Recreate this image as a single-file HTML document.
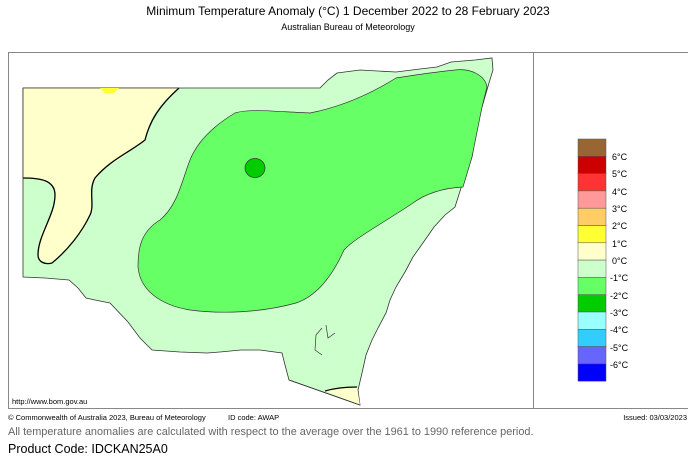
<!DOCTYPE html>
<html><head><meta charset="utf-8"><style>
body{margin:0;background:#fff;width:688px;height:467px;overflow:hidden;font-family:"Liberation Sans",Arial,sans-serif}
</style></head><body>
<svg width="688" height="467" xmlns="http://www.w3.org/2000/svg" font-family="Liberation Sans, Arial, sans-serif">
<text x="348" y="15" font-size="12" text-anchor="middle" fill="#000">Minimum Temperature Anomaly (°C)  1 December 2022 to 28 February 2023</text>
<text x="348" y="30" font-size="9" text-anchor="middle" fill="#000">Australian Bureau of Meteorology</text>
<rect x="8.5" y="52.5" width="690" height="356" fill="none" stroke="#888" stroke-width="1"/>
<line x1="533.5" y1="52" x2="533.5" y2="409" stroke="#888"/>
<path d="M23,88 L320,88 L328,80 L337,73 L360,70 L396,72 L420,69 L437,67 L451,62 L475,60 L492,58 L493,70 L489,83 L482,107 L476,130 L472,157 L461,188 L455,207 L445,215 L434,227 L425,240 L413,257 L405,272 L396,287 L390,300 L386,313 L378,328 L372,340 L366,355 L362,373 L358,390 L360,405 L289,380 L285,365 L282,353 L260,350 L241,350 L220,352 L207,353 L180,352 L152,350 L140,338 L128,322 L110,303 L95,300 L86,298 L78,288 L69,280 L45,278 L23,277 Z" fill="#ccffcc" stroke="#333" stroke-width="0.8"/>
<path d="M179,88 L165,100 L152,117 L145,140 L125,155 L103,170 L90,187 L93,210 L83,230 L69,247 L52,263 L38,260 L41,233 L55,207 L55,187 L41,180 L23,178 L23,88 Z" fill="#ffffcc"/>
<path d="M179,88 C160,105 150,120 145,140 C130,152 110,160 95,178 C88,190 95,205 90,215 C82,232 68,250 52,263 C45,265 38,262 38,255 C38,235 55,215 55,195 C55,180 40,178 23,178" fill="none" stroke="#000" stroke-width="1.3"/>
<path d="M23,88 L179,88 M23,88 L23,178" stroke="#333" stroke-width="0.8"/>
<path d="M100,88 L119,88 L114,93 L105,93 Z" fill="#ffff33"/>
<path d="M396,78 C380,88 350,105 310,113 C280,112 250,108 235,113 C215,125 198,140 190,160 C182,180 178,205 160,220 C140,232 138,250 138,267 C140,290 160,305 190,310 C220,314 260,313 296,303 C320,295 335,270 344,250 C355,238 380,225 413,203 C428,192 445,188 463,187 L472,157 L482,107 L487,87 C485,75 470,68 455,70 C435,72 415,75 396,78 Z" fill="#66ff66" stroke="#333" stroke-width="0.7"/>
<ellipse cx="255" cy="168" rx="10" ry="9.5" fill="#00cc00" stroke="#333" stroke-width="0.7"/>
<path d="M325,391 L345,388 L357,387 L360,405 Z" fill="#ffffcc"/>
<path d="M325,391 C335,388 348,387 357,387" fill="none" stroke="#000" stroke-width="1.2"/>
<path d="M289,380 L360,405" stroke="#333" stroke-width="0.8"/>
<path d="M322,328 L316,335 L315,350 L322,355 M326,325 L328,338 L335,333" fill="none" stroke="#333" stroke-width="0.7"/>
<text x="12" y="404" font-size="7.5" fill="#000">http://www.bom.gov.au</text>
<g stroke="#555" stroke-width="0.5">
<rect x="578" y="139" width="28" height="17.3" fill="#996633"/>
<rect x="578" y="156.3" width="28" height="17.3" fill="#cc0000"/>
<rect x="578" y="173.6" width="28" height="17.3" fill="#ff3333"/>
<rect x="578" y="190.9" width="28" height="17.3" fill="#ff9999"/>
<rect x="578" y="208.2" width="28" height="17.3" fill="#ffcc66"/>
<rect x="578" y="225.5" width="28" height="17.3" fill="#ffff33"/>
<rect x="578" y="242.8" width="28" height="17.3" fill="#ffffcc"/>
<rect x="578" y="260.1" width="28" height="17.3" fill="#ccffcc"/>
<rect x="578" y="277.4" width="28" height="17.3" fill="#66ff66"/>
<rect x="578" y="294.7" width="28" height="17.3" fill="#00cc00"/>
<rect x="578" y="312" width="28" height="17.3" fill="#99ffff"/>
<rect x="578" y="329.3" width="28" height="17.3" fill="#33ccff"/>
<rect x="578" y="346.6" width="28" height="17.3" fill="#6666ff"/>
<rect x="578" y="363.9" width="28" height="17.3" fill="#0000ff"/>
</g>
<g font-size="9" fill="#000">
<text x="612" y="160">6°C</text>
<text x="612" y="177">5°C</text>
<text x="612" y="195">4°C</text>
<text x="612" y="212">3°C</text>
<text x="612" y="229">2°C</text>
<text x="612" y="247">1°C</text>
<text x="612" y="264">0°C</text>
<text x="610" y="281">-1°C</text>
<text x="610" y="299">-2°C</text>
<text x="610" y="316">-3°C</text>
<text x="610" y="333">-4°C</text>
<text x="610" y="351">-5°C</text>
<text x="610" y="368">-6°C</text>
</g>
<text x="8" y="420" font-size="7.5" fill="#000">© Commonwealth of Australia 2023, Bureau of Meteorology</text>
<text x="228" y="420" font-size="7.5" fill="#000">ID code: AWAP</text>
<text x="687" y="420" font-size="7.5" fill="#000" text-anchor="end">Issued: 03/03/2023</text>
<text x="8" y="435" font-size="10.9" fill="#666">All temperature anomalies are calculated with respect to the average over the 1961 to 1990 reference period.</text>
<text x="8" y="453" font-size="12.5" fill="#000">Product Code: IDCKAN25A0</text>
</svg>
</body></html>
